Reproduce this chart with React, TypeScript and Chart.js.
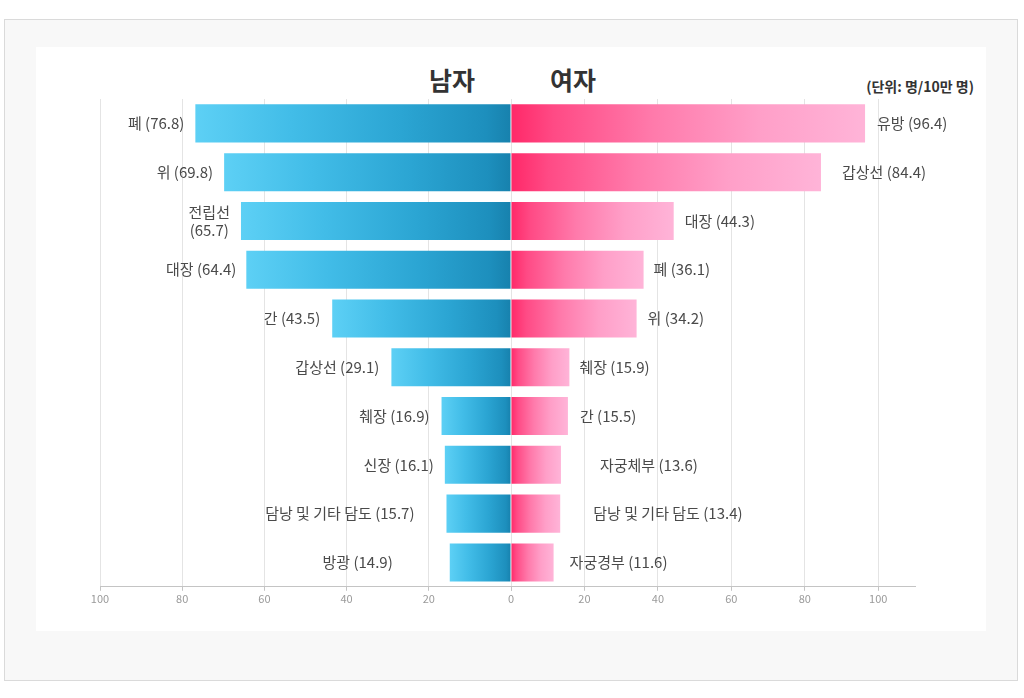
import React, { useEffect, useRef } from "react";
import { Chart, registerables } from "chart.js";

Chart.register(...registerables);

// ---------- data ----------
const maleCategories = ["폐", "위", "전립선", "대장", "간", "갑상선", "췌장", "신장", "담낭 및 기타 담도", "방광"];
const maleValues = [76.8, 69.8, 65.7, 64.4, 43.5, 29.1, 16.9, 16.1, 15.7, 14.9];
const femaleCategories = ["유방", "갑상선", "대장", "폐", "위", "췌장", "간", "자궁체부", "담낭 및 기타 담도", "자궁경부"];
const femaleValues = [96.4, 84.4, 44.3, 36.1, 34.2, 15.9, 15.5, 13.6, 13.4, 11.6];
const maleTitle = "남자";
const femaleTitle = "여자";
const unitText = "(단위: 명/10만 명)";

// ---------- styles ----------
const FONT = "'Noto Sans CJK KR', 'Noto Sans', sans-serif";
const maleLabelGap = [11, 11, 11, 10, 12, 12, 12, 11, 32, 57];
const femaleLabelGap = [12, 21, 11, 10, 11, 10, 12, 39, 33, 16];
const maleLabelWrap = [false, false, true, false, false, false, false, false, false, false];

const MALE_STOPS: [number, string][] = [
  [0, "#1781ad"],
  [0.08, "#1d8fbd"],
  [0.35, "#2ba5d3"],
  [0.7, "#42bde8"],
  [1, "#5dd0f5"],
];
const FEMALE_STOPS: [number, string][] = [
  [0, "#ff2868"],
  [0.12, "#ff4a85"],
  [0.4, "#ff7aab"],
  [0.7, "#ff9fc8"],
  [1, "#ffb4d8"],
];

function makeGradientColor(stops: [number, string][]) {
  return (c: any) => {
    const chart = c.chart;
    const xs = chart.scales && chart.scales.x;
    const fallback = stops[stops.length - 1][1];
    if (!xs || typeof c.raw !== "number") return fallback;
    const x0 = xs.getPixelForValue(0);
    const x1 = xs.getPixelForValue(c.raw);
    if (!isFinite(x0) || !isFinite(x1) || x0 === x1) return fallback;
    const g = chart.ctx.createLinearGradient(x0, 0, x1, 0);
    stops.forEach(([o, col]) => g.addColorStop(o, col));
    return g;
  };
}

function labelPlugin(categories: string[], values: number[], gaps: number[], wraps: boolean[] | null, side: "left" | "right") {
  return {
    id: "barLabels",
    afterDatasetsDraw(chart: any) {
      const ctx = chart.ctx;
      const meta = chart.getDatasetMeta(0);
      ctx.save();
      ctx.font = `15px ${FONT}`;
      ctx.fillStyle = "#4a4a4a";
      ctx.textBaseline = "middle";
      ctx.textAlign = side === "left" ? "right" : "left";
      meta.data.forEach((el: any, i: number) => {
        const x = side === "left" ? el.x - gaps[i] : el.x + gaps[i];
        const val = `(${values[i].toFixed(1)})`;
        if (wraps && wraps[i]) {
          ctx.textAlign = "center";
          const w = Math.max(ctx.measureText(categories[i]).width, ctx.measureText(val).width);
          const cx = side === "left" ? x - w / 2 : x + w / 2;
          ctx.fillText(categories[i], cx, el.y - 9);
          ctx.fillText(val, cx, el.y + 9);
          ctx.textAlign = side === "left" ? "right" : "left";
        } else {
          ctx.fillText(`${categories[i]} ${val}`, x, el.y);
        }
      });
      ctx.restore();
    },
  };
}

function makeConfig(side: "left" | "right"): any {
  const isLeft = side === "left";
  const cats = isLeft ? maleCategories : femaleCategories;
  const vals = isLeft ? maleValues : femaleValues;
  return {
    type: "bar",
    data: {
      labels: cats,
      datasets: [
        {
          data: vals,
          backgroundColor: makeGradientColor(isLeft ? MALE_STOPS : FEMALE_STOPS),
          borderWidth: 0,
          barPercentage: 0.78,
          categoryPercentage: 1,
        },
      ],
    },
    options: {
      indexAxis: "y",
      responsive: false,
      animation: false,
      devicePixelRatio: 1,
      layout: {
        padding: isLeft
          ? { left: 40, right: 20, top: 9, bottom: 0 }
          : { left: 20, right: 56, top: 9, bottom: 0 },
      },
      plugins: {
        legend: { display: false },
        tooltip: { enabled: false },
        title: { display: false },
      },
      scales: {
        x: {
          type: "linear",
          min: 0,
          max: isLeft ? 100 : 110,
          reverse: isLeft,
          ticks: {
            stepSize: 20,
            includeBounds: false,
            color: "#9a9a9a",
            padding: 1,
            font: { family: FONT, size: 11 },
            callback: (v: any) => (!isLeft && v === 0 ? "" : String(v)),
          },
          grid: {
            color: "#e4e4e4",
            tickColor: "#c4c4c4",
            tickLength: 4,
            lineWidth: 1,
          },
          border: { display: true, color: "#c4c4c4", width: 1 },
        },
        y: {
          type: "category",
          display: false,
        },
      },
    },
    plugins: [labelPlugin(cats, vals, isLeft ? maleLabelGap : femaleLabelGap, isLeft ? maleLabelWrap : null, side)],
  };
}

function SideChart(props: { side: "left" | "right"; style: React.CSSProperties; width: number; height: number }) {
  const ref = useRef<HTMLCanvasElement | null>(null);
  useEffect(() => {
    if (!ref.current) return;
    const chart = new Chart(ref.current, makeConfig(props.side));
    return () => chart.destroy();
  }, [props.side]);
  return <canvas ref={ref} width={props.width} height={props.height} style={{ position: "absolute", ...props.style }} />;
}

export default function App() {
  return (
    <div style={{ position: "absolute", left: 0, top: 0, width: 1024, height: 698, background: "#ffffff", overflow: "hidden", fontFamily: FONT }}>
      <div
        style={{
          position: "absolute",
          left: 4,
          top: 19,
          width: 1012,
          height: 660,
          border: "1px solid #dadada",
          background: "#f8f8f8",
        }}
      />
      <div style={{ position: "absolute", left: 36, top: 47, width: 950, height: 584, background: "#ffffff" }} />
      <div
        style={{
          position: "absolute",
          left: 402,
          top: 64,
          width: 100,
          textAlign: "center",
          fontSize: 25,
          lineHeight: "30px",
          fontWeight: 700,
          color: "#333333",
        }}
      >
        {maleTitle}
      </div>
      <div
        style={{
          position: "absolute",
          left: 523,
          top: 64,
          width: 100,
          textAlign: "center",
          fontSize: 25,
          lineHeight: "30px",
          fontWeight: 700,
          color: "#333333",
        }}
      >
        {femaleTitle}
      </div>
      <div
        style={{
          position: "absolute",
          right: 1024 - 974,
          top: 77,
          fontSize: 14,
          lineHeight: "18px",
          fontWeight: 700,
          color: "#333333",
          whiteSpace: "nowrap",
        }}
      >
        {unitText}
      </div>
      <SideChart side="left" width={471} height={516} style={{ left: 60, top: 90 }} />
      <SideChart side="right" width={480} height={516} style={{ left: 491, top: 90 }} />
    </div>
  );
}
